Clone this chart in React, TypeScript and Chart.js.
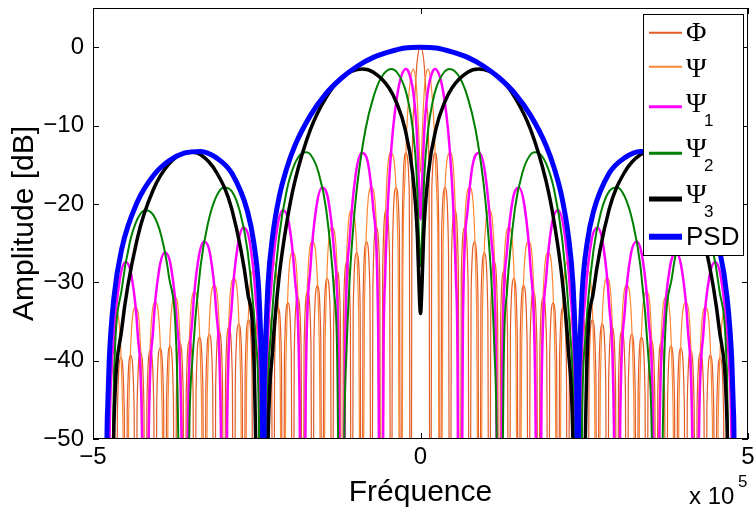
import React, { useEffect, useRef } from "react";
import { Chart, registerables } from "chart.js";
Chart.register(...registerables);

// ---------- data (frequency in units of 1e5, amplitude in dB) ----------
const xTicks = [-5, 0, 5];
const yTicks = [0, -10, -20, -30, -40, -50];
const seriesNames = ["Φ", "Ψ", "Ψ", "Ψ", "Ψ", "PSD"];
const seriesSubs = ["", "", "1", "2", "3", ""];

const psd: [number, number][] = [
  [-4.8,-100],[-4.79,-54],[-4.776,-46],[-4.752,-39.9],[-4.68,-31.9],[-4.56,-25.7],[-4.32,-19.7],[-4.08,-16.4],[-3.84,-14.5],[-3.6,-13.5],[-3.36,-13.3],[-3.12,-14.1],[-2.88,-16.1],[-2.64,-21],[-2.544,-25],[-2.472,-30.7],[-2.424,-40.1],[-2.412,-46.1],[-2.4,-100],
  [-2.388,-46],[-2.376,-39.9],[-2.328,-30.2],[-2.256,-24],[-2.16,-19.2],[-2.04,-15.4],[-1.92,-12.6],[-1.68,-8.7],[-1.44,-5.9],[-1.2,-3.9],[-0.96,-2.4],[-0.72,-1.3],[-0.48,-0.6],[-0.24,-0.1],
  [0,0],
  [0.24,-0.1],[0.48,-0.6],[0.72,-1.3],[0.96,-2.4],[1.2,-3.9],[1.44,-5.9],[1.68,-8.7],[1.92,-12.6],[2.04,-15.4],[2.16,-19.2],[2.256,-24],[2.328,-30.2],[2.376,-39.9],[2.388,-46],
  [2.4,-100],[2.412,-46.1],[2.424,-40.1],[2.472,-30.7],[2.544,-25],[2.64,-21],[2.88,-16.1],[3.12,-14.1],[3.36,-13.3],[3.6,-13.5],[3.84,-14.5],[4.08,-16.4],[4.32,-19.7],[4.56,-25.7],[4.68,-31.9],[4.752,-39.9],[4.776,-46],[4.79,-54],[4.8,-100],
];

const psi3: [number, number][] = [
  [-4.8,-100],[-4.68,-48],[-4.56,-35.9],[-4.32,-24.3],[-4.08,-18.2],[-3.84,-14.9],[-3.6,-13.5],[-3.48,-13.4],[-3.36,-13.7],[-3.12,-15.9],[-2.88,-20.7],[-2.64,-31.2],[-2.544,-39.5],[-2.4,-100],
  [-2.328,-50.7],[-2.256,-38.5],[-2.16,-29.4],[-2.04,-22.3],[-1.92,-17.2],[-1.68,-10.5],[-1.44,-6.4],[-1.2,-3.9],[-0.89,-2.8],[-0.72,-3.2],[-0.48,-5.2],[-0.36,-7.2],[-0.24,-10.3],[-0.12,-16.1],[-0.048,-24],[-0.024,-30.1],
  [0,-34],
  [0.024,-30.1],[0.048,-24],[0.12,-16.1],[0.24,-10.3],[0.36,-7.2],[0.48,-5.2],[0.72,-3.2],[0.89,-2.8],[1.2,-3.9],[1.44,-6.4],[1.68,-10.5],[1.92,-17.2],[2.04,-22.3],[2.16,-29.4],[2.256,-38.5],[2.328,-50.7],
  [2.4,-100],[2.544,-39.5],[2.64,-31.2],[2.88,-20.7],[3.12,-15.9],[3.36,-13.7],[3.48,-13.4],[3.6,-13.5],[3.84,-14.9],[4.08,-18.2],[4.32,-24.3],[4.56,-35.9],[4.68,-48],[4.8,-100],
];

const psi2: [number, number][] = [
  [-4.8,-100],[-4.68,-42.2],[-4.56,-30.8],[-4.44,-25],[-4.32,-21.9],[-4.2,-20.8],[-4.08,-21.4],[-3.96,-24],[-3.84,-29.3],[-3.72,-40.2],
  [-3.6,-100],[-3.528,-48.4],[-3.48,-39.6],[-3.36,-28.1],[-3.24,-22.3],[-3.12,-19.1],[-3,-17.9],[-2.88,-18.4],[-2.76,-20.9],[-2.64,-26],[-2.52,-36.8],[-2.472,-45.3],
  [-2.4,-100],[-2.34,-48],[-2.28,-35.9],[-2.16,-24.3],[-2.04,-18.2],[-1.92,-14.9],[-1.8,-13.5],[-1.74,-13.4],[-1.68,-13.7],[-1.56,-15.9],[-1.44,-20.7],[-1.32,-31.2],[-1.272,-39.5],
  [-1.2,-100],[-1.164,-50.7],[-1.128,-38.5],[-1.08,-29.4],[-1.02,-22.3],[-0.96,-17.2],[-0.84,-10.5],[-0.72,-6.4],[-0.6,-3.9],[-0.445,-2.8],[-0.36,-3.2],[-0.24,-5.2],[-0.18,-7.2],[-0.12,-10.3],[-0.06,-16.1],[-0.024,-24],
  [0,-28],
  [0.024,-24],[0.06,-16.1],[0.12,-10.3],[0.18,-7.2],[0.24,-5.2],[0.36,-3.2],[0.445,-2.8],[0.6,-3.9],[0.72,-6.4],[0.84,-10.5],[0.96,-17.2],[1.02,-22.3],[1.08,-29.4],[1.128,-38.5],[1.164,-50.7],
  [1.2,-100],[1.272,-39.5],[1.32,-31.2],[1.44,-20.7],[1.56,-15.9],[1.68,-13.7],[1.74,-13.4],[1.8,-13.5],[1.92,-14.9],[2.04,-18.2],[2.16,-24.3],[2.28,-35.9],[2.34,-48],
  [2.4,-100],[2.472,-45.3],[2.52,-36.8],[2.64,-26],[2.76,-20.9],[2.88,-18.4],[3,-17.9],[3.12,-19.1],[3.24,-22.3],[3.36,-28.1],[3.48,-39.6],[3.528,-48.4],
  [3.6,-100],[3.72,-40.2],[3.84,-29.3],[3.96,-24],[4.08,-21.4],[4.2,-20.8],[4.32,-21.9],[4.44,-25],[4.56,-30.8],[4.68,-42.2],[4.8,-100],
];

const psi1: [number, number][] = [
  [-4.8,-100],[-4.752,-52.1],[-4.68,-37],[-4.59,-29.6],[-4.5,-27.4],[-4.41,-29.3],[-4.32,-36.3],[-4.248,-51.1],
  [-4.2,-100],[-4.152,-51],[-4.08,-35.8],[-3.99,-28.4],[-3.9,-26.2],[-3.81,-28],[-3.72,-35],[-3.648,-49.8],
  [-3.6,-100],[-3.552,-49.6],[-3.48,-34.4],[-3.39,-27],[-3.3,-24.8],[-3.21,-26.5],[-3.12,-33.5],[-3.048,-48.3],
  [-3,-100],[-2.952,-48],[-2.88,-32.8],[-2.79,-25.3],[-2.7,-23],[-2.61,-24.7],[-2.52,-31.6],[-2.448,-46.4],
  [-2.4,-100],[-2.352,-46],[-2.28,-30.7],[-2.19,-23.2],[-2.1,-20.8],[-2.01,-22.4],[-1.92,-29.3],[-1.848,-43.9],
  [-1.8,-100],[-1.752,-43.5],[-1.68,-28.1],[-1.59,-20.4],[-1.5,-17.9],[-1.41,-19.4],[-1.32,-26],[-1.248,-40.5],
  [-1.2,-100],[-1.152,-39.8],[-1.08,-24.3],[-0.99,-16.3],[-0.9,-13.5],[-0.81,-14.5],[-0.72,-20.7],[-0.648,-34.8],
  [-0.6,-100],[-0.564,-38.5],[-0.54,-29.4],[-0.51,-22.3],[-0.48,-17.2],[-0.42,-10.5],[-0.36,-6.4],[-0.3,-3.9],[-0.223,-2.8],[-0.18,-3.2],[-0.12,-5.2],[-0.09,-7.2],[-0.06,-10.3],[-0.03,-16.1],
  [0,-22],
  [0.03,-16.1],[0.06,-10.3],[0.09,-7.2],[0.12,-5.2],[0.18,-3.2],[0.223,-2.8],[0.3,-3.9],[0.36,-6.4],[0.42,-10.5],[0.48,-17.2],[0.51,-22.3],[0.54,-29.4],[0.564,-38.5],
  [0.6,-100],[0.648,-34.8],[0.72,-20.7],[0.81,-14.5],[0.9,-13.5],[0.99,-16.3],[1.08,-24.3],[1.152,-39.8],
  [1.2,-100],[1.248,-40.5],[1.32,-26],[1.41,-19.4],[1.5,-17.9],[1.59,-20.4],[1.68,-28.1],[1.752,-43.5],
  [1.8,-100],[1.848,-43.9],[1.92,-29.3],[2.01,-22.4],[2.1,-20.8],[2.19,-23.2],[2.28,-30.7],[2.352,-46],
  [2.4,-100],[2.448,-46.4],[2.52,-31.6],[2.61,-24.7],[2.7,-23],[2.79,-25.3],[2.88,-32.8],[2.952,-48],
  [3,-100],[3.048,-48.3],[3.12,-33.5],[3.21,-26.5],[3.3,-24.8],[3.39,-27],[3.48,-34.4],[3.552,-49.6],
  [3.6,-100],[3.648,-49.8],[3.72,-35],[3.81,-28],[3.9,-26.2],[3.99,-28.4],[4.08,-35.8],[4.152,-51],
  [4.2,-100],[4.248,-51.1],[4.32,-36.3],[4.41,-29.3],[4.5,-27.4],[4.59,-29.6],[4.68,-37],[4.752,-52.1],[4.8,-100],
];

const psi: [number, number][] = [
  [-4.8,-100],[-4.755,-47.7],[-4.65,-33.8],[-4.545,-47.3],
  [-4.5,-100],[-4.455,-47.1],[-4.35,-33.2],[-4.245,-46.7],
  [-4.2,-100],[-4.155,-46.5],[-4.05,-32.6],[-3.945,-46],
  [-3.9,-100],[-3.855,-45.8],[-3.75,-31.9],[-3.645,-45.3],
  [-3.6,-100],[-3.555,-45.2],[-3.45,-31.2],[-3.345,-44.6],
  [-3.3,-100],[-3.255,-44.4],[-3.15,-30.4],[-3.045,-43.8],
  [-3,-100],[-2.955,-43.5],[-2.85,-29.5],[-2.745,-42.9],
  [-2.7,-100],[-2.655,-42.6],[-2.55,-28.5],[-2.445,-41.8],
  [-2.4,-100],[-2.355,-41.6],[-2.25,-27.4],[-2.145,-40.7],
  [-2.1,-100],[-2.055,-40.4],[-1.95,-26.2],[-1.845,-39.4],
  [-1.8,-100],[-1.755,-39],[-1.65,-24.8],[-1.545,-37.9],
  [-1.5,-100],[-1.455,-37.3],[-1.35,-23],[-1.245,-36],
  [-1.2,-100],[-1.155,-35.3],[-1.05,-20.8],[-0.945,-33.6],
  [-0.9,-100],[-0.855,-32.7],[-0.75,-17.9],[-0.645,-30.3],
  [-0.6,-100],[-0.555,-29],[-0.45,-13.5],[-0.345,-24.9],
  [-0.3,-100],[-0.27,-29.4],[-0.24,-17.2],[-0.21,-10.5],[-0.18,-6.4],[-0.15,-3.9],[-0.111,-2.8],[-0.09,-3.2],[-0.06,-5.2],[-0.03,-10.3],
  [0,-16],
  [0.03,-10.3],[0.06,-5.2],[0.09,-3.2],[0.111,-2.8],[0.15,-3.9],[0.18,-6.4],[0.21,-10.5],[0.24,-17.2],[0.27,-29.4],
  [0.3,-100],[0.345,-24.9],[0.45,-13.5],[0.555,-29],
  [0.6,-100],[0.645,-30.3],[0.75,-17.9],[0.855,-32.7],
  [0.9,-100],[0.945,-33.6],[1.05,-20.8],[1.155,-35.3],
  [1.2,-100],[1.245,-36],[1.35,-23],[1.455,-37.3],
  [1.5,-100],[1.545,-37.9],[1.65,-24.8],[1.755,-39],
  [1.8,-100],[1.845,-39.4],[1.95,-26.2],[2.055,-40.4],
  [2.1,-100],[2.145,-40.7],[2.25,-27.4],[2.355,-41.6],
  [2.4,-100],[2.445,-41.8],[2.55,-28.5],[2.655,-42.6],
  [2.7,-100],[2.745,-42.9],[2.85,-29.5],[2.955,-43.5],
  [3,-100],[3.045,-43.8],[3.15,-30.4],[3.255,-44.4],
  [3.3,-100],[3.345,-44.6],[3.45,-31.2],[3.555,-45.2],
  [3.6,-100],[3.645,-45.3],[3.75,-31.9],[3.855,-45.8],
  [3.9,-100],[3.945,-46],[4.05,-32.6],[4.155,-46.5],
  [4.2,-100],[4.245,-46.7],[4.35,-33.2],[4.455,-47.1],
  [4.5,-100],[4.545,-47.3],[4.65,-33.8],[4.755,-47.7],[4.8,-100],
];

const phi: [number, number][] = [
  [-4.8,-100],[-4.7775,-47],[-4.725,-39.9],[-4.6725,-46.6],
  [-4.65,-100],[-4.6275,-46.7],[-4.575,-39.6],[-4.5225,-46.3],
  [-4.5,-100],[-4.4775,-46.4],[-4.425,-39.3],[-4.3725,-46],
  [-4.35,-100],[-4.3275,-46.1],[-4.275,-39],[-4.2225,-45.7],
  [-4.2,-100],[-4.1775,-45.8],[-4.125,-38.7],[-4.0725,-45.4],
  [-4.05,-100],[-4.0275,-45.5],[-3.975,-38.4],[-3.9225,-45.1],
  [-3.9,-100],[-3.8775,-45.2],[-3.825,-38.1],[-3.7725,-44.8],
  [-3.75,-100],[-3.7275,-44.8],[-3.675,-37.7],[-3.6225,-44.4],
  [-3.6,-100],[-3.5775,-44.5],[-3.525,-37.4],[-3.4725,-44.1],
  [-3.45,-100],[-3.4275,-44.1],[-3.375,-37],[-3.3225,-43.7],
  [-3.3,-100],[-3.2775,-43.7],[-3.225,-36.6],[-3.1725,-43.3],
  [-3.15,-100],[-3.1275,-43.3],[-3.075,-36.2],[-3.0225,-42.9],
  [-3,-100],[-2.9775,-42.8],[-2.925,-35.7],[-2.8725,-42.4],
  [-2.85,-100],[-2.8275,-42.4],[-2.775,-35.3],[-2.7225,-42],
  [-2.7,-100],[-2.6775,-41.9],[-2.625,-34.8],[-2.5725,-41.5],
  [-2.55,-100],[-2.5275,-41.4],[-2.475,-34.3],[-2.4225,-41],
  [-2.4,-100],[-2.3775,-40.9],[-2.325,-33.8],[-2.2725,-40.5],
  [-2.25,-100],[-2.2275,-40.3],[-2.175,-33.2],[-2.1225,-39.9],
  [-2.1,-100],[-2.0775,-39.7],[-2.025,-32.6],[-1.9725,-39.3],
  [-1.95,-100],[-1.9275,-39],[-1.875,-31.9],[-1.8225,-38.5],
  [-1.8,-100],[-1.7775,-38.4],[-1.725,-31.2],[-1.6725,-37.8],
  [-1.65,-100],[-1.6275,-37.6],[-1.575,-30.4],[-1.5225,-37],
  [-1.5,-100],[-1.4775,-36.7],[-1.425,-29.5],[-1.3725,-36.1],
  [-1.35,-100],[-1.3275,-35.8],[-1.275,-28.5],[-1.2225,-35],
  [-1.2,-100],[-1.1775,-34.7],[-1.125,-27.4],[-1.0725,-33.9],
  [-1.05,-100],[-1.0275,-33.6],[-0.975,-26.2],[-0.9225,-32.6],
  [-0.9,-100],[-0.8775,-32.2],[-0.825,-24.8],[-0.7725,-31.1],
  [-0.75,-100],[-0.7275,-30.6],[-0.675,-23],[-0.6225,-29.2],
  [-0.6,-100],[-0.5775,-28.5],[-0.525,-20.8],[-0.4725,-26.8],
  [-0.45,-100],[-0.4275,-25.9],[-0.375,-17.9],[-0.3225,-23.5],
  [-0.3,-100],[-0.2775,-22.2],[-0.225,-13.5],[-0.1725,-18.1],
  [-0.15,-100],[-0.13,-16.5],[-0.1,-7.7],[-0.05,-1.7],
  [0,0],
  [0.05,-1.7],[0.1,-7.7],[0.13,-16.5],[0.15,-100],
  [0.1725,-18.1],[0.225,-13.5],[0.2775,-22.2],[0.3,-100],
  [0.3225,-23.5],[0.375,-17.9],[0.4275,-25.9],[0.45,-100],
  [0.4725,-26.8],[0.525,-20.8],[0.5775,-28.5],[0.6,-100],
  [0.6225,-29.2],[0.675,-23],[0.7275,-30.6],[0.75,-100],
  [0.7725,-31.1],[0.825,-24.8],[0.8775,-32.2],[0.9,-100],
  [0.9225,-32.6],[0.975,-26.2],[1.0275,-33.6],[1.05,-100],
  [1.0725,-33.9],[1.125,-27.4],[1.1775,-34.7],[1.2,-100],
  [1.2225,-35],[1.275,-28.5],[1.3275,-35.8],[1.35,-100],
  [1.3725,-36.1],[1.425,-29.5],[1.4775,-36.7],[1.5,-100],
  [1.5225,-37],[1.575,-30.4],[1.6275,-37.6],[1.65,-100],
  [1.6725,-37.8],[1.725,-31.2],[1.7775,-38.4],[1.8,-100],
  [1.8225,-38.5],[1.875,-31.9],[1.9275,-39],[1.95,-100],
  [1.9725,-39.3],[2.025,-32.6],[2.0775,-39.7],[2.1,-100],
  [2.1225,-39.9],[2.175,-33.2],[2.2275,-40.3],[2.25,-100],
  [2.2725,-40.5],[2.325,-33.8],[2.3775,-40.9],[2.4,-100],
  [2.4225,-41],[2.475,-34.3],[2.5275,-41.4],[2.55,-100],
  [2.5725,-41.5],[2.625,-34.8],[2.6775,-41.9],[2.7,-100],
  [2.7225,-42],[2.775,-35.3],[2.8275,-42.4],[2.85,-100],
  [2.8725,-42.4],[2.925,-35.7],[2.9775,-42.8],[3,-100],
  [3.0225,-42.9],[3.075,-36.2],[3.1275,-43.3],[3.15,-100],
  [3.1725,-43.3],[3.225,-36.6],[3.2775,-43.7],[3.3,-100],
  [3.3225,-43.7],[3.375,-37],[3.4275,-44.1],[3.45,-100],
  [3.4725,-44.1],[3.525,-37.4],[3.5775,-44.5],[3.6,-100],
  [3.6225,-44.4],[3.675,-37.7],[3.7275,-44.8],[3.75,-100],
  [3.7725,-44.8],[3.825,-38.1],[3.8775,-45.2],[3.9,-100],
  [3.9225,-45.1],[3.975,-38.4],[4.0275,-45.5],[4.05,-100],
  [4.0725,-45.4],[4.125,-38.7],[4.1775,-45.8],[4.2,-100],
  [4.2225,-45.7],[4.275,-39],[4.3275,-46.1],[4.35,-100],
  [4.3725,-46],[4.425,-39.3],[4.4775,-46.4],[4.5,-100],
  [4.5225,-46.3],[4.575,-39.6],[4.6275,-46.7],[4.65,-100],
  [4.6725,-46.6],[4.725,-39.9],[4.7775,-47],[4.8,-100],
];

// ---------- styles ----------
const seriesData = [phi, psi, psi1, psi2, psi3, psd];
const seriesColors = ["#e25c28", "#ff8833", "#ff00ff", "#008000", "#000000", "#0000ff"];
const seriesWidths = [1.2, 1.2, 2.5, 2, 3.5, 5];
const legendWidths = [2, 2, 3, 3, 5, 6];
const legendRowY = [32.7, 66.7, 106.7, 153.3, 199, 236.7];
const legendBaseY = [41, 77, 112, 157, 203, 245];
const SANS = "'Liberation Sans', Arial, Helvetica, sans-serif";
const SERIF = "'Liberation Serif', 'Times New Roman', serif";

const fmt = (v: number) => (v < 0 ? "\u2212" + Math.abs(v) : String(v));

const framePlugin = {
  id: "frame",
  afterDatasetsDraw(chart: any) {
    const { ctx, chartArea } = chart;
    const { left, right, top, bottom } = chartArea;
    const xs = chart.scales.x;
    const ys = chart.scales.y;
    ctx.save();
    ctx.strokeStyle = "#000";
    ctx.lineWidth = 1;
    ctx.beginPath();
    for (const v of xTicks) {
      const px = Math.round(xs.getPixelForValue(v)) + 0.5;
      ctx.moveTo(px, bottom); ctx.lineTo(px, bottom - 6);
      ctx.moveTo(px, top); ctx.lineTo(px, top + 6);
    }
    for (const v of yTicks) {
      const py = Math.round(ys.getPixelForValue(v)) + 0.5;
      ctx.moveTo(left, py); ctx.lineTo(left + 6, py);
      ctx.moveTo(right, py); ctx.lineTo(right - 6, py);
    }
    ctx.stroke();
    ctx.strokeRect(left + 0.5, top + 0.5, right - left - 1, bottom - top - 1);

    // legend
    const lx0 = 643, ly0 = 14, lx1 = 743, ly1 = 255;
    ctx.fillStyle = "#fff";
    ctx.fillRect(lx0, ly0, lx1 - lx0, ly1 - ly0);
    ctx.strokeStyle = "#000";
    ctx.lineWidth = 1;
    ctx.strokeRect(lx0 + 0.5, ly0 + 0.5, lx1 - lx0, ly1 - ly0);
    for (let i = 0; i < seriesNames.length; i++) {
      ctx.strokeStyle = seriesColors[i];
      ctx.lineWidth = legendWidths[i];
      ctx.beginPath();
      ctx.moveTo(649, legendRowY[i]);
      ctx.lineTo(682, legendRowY[i]);
      ctx.stroke();
      ctx.fillStyle = "#000";
      ctx.textAlign = "left";
      ctx.textBaseline = "alphabetic";
      ctx.font = seriesNames[i] === "PSD" ? `26px ${SANS}` : `28px ${SERIF}`;
      ctx.fillText(seriesNames[i], 686, legendBaseY[i]);
      if (seriesSubs[i]) {
        ctx.font = `17px ${SANS}`;
        ctx.fillText(seriesSubs[i], 704, legendBaseY[i] + 14);
      }
    }

    // exponent label
    ctx.fillStyle = "#000";
    ctx.textAlign = "left";
    ctx.textBaseline = "alphabetic";
    ctx.font = `24px ${SANS}`;
    ctx.fillText("x 10", 689, 504);
    ctx.font = `17px ${SANS}`;
    ctx.fillText("5", 738, 487);
    ctx.restore();
  },
};

export default function App() {
  const ref = useRef<HTMLCanvasElement>(null);
  useEffect(() => {
    const order = [5, 4, 3, 2, 1, 0];
    const datasets = seriesData.map((d, i) => ({
      label: seriesNames[i] + seriesSubs[i],
      data: d.map(([x, y]) => ({ x, y })),
      borderColor: seriesColors[i],
      backgroundColor: seriesColors[i],
      borderWidth: seriesWidths[i],
      pointRadius: 0,
      pointHoverRadius: 0,
      cubicInterpolationMode: "monotone" as const,
      fill: false,
      clip: 0,
      order: order[i],
    }));
    const chart = new Chart(ref.current!, {
      type: "line",
      data: { datasets },
      options: {
        animation: false,
        responsive: false,
        maintainAspectRatio: false,
        events: [],
        layout: { padding: { left: 0, right: 7, top: 8, bottom: 0 } },
        plugins: { legend: { display: false }, tooltip: { enabled: false } },
        scales: {
          x: {
            type: "linear",
            min: -5,
            max: 5,
            grid: { display: false, drawTicks: false },
            border: { display: false },
            afterBuildTicks: (s: any) => { s.ticks = xTicks.map((v) => ({ value: v })); },
            afterFit: (s: any) => { s.height = 70; s.paddingLeft = 0; s.paddingRight = 0; },
            ticks: {
              font: { family: SANS, size: 24 },
              color: "#000",
              padding: 4,
              maxRotation: 0,
              autoSkip: false,
              callback: (v: any) => fmt(Number(v)),
            },
            title: {
              display: true,
              text: "Fréquence",
              font: { family: SANS, size: 30, lineHeight: 1.1 },
              color: "#000",
              padding: { top: 0, bottom: 0 },
            },
          },
          y: {
            type: "linear",
            min: -50,
            max: 5,
            grid: { display: false, drawTicks: false },
            border: { display: false },
            afterBuildTicks: (s: any) => { s.ticks = yTicks.map((v) => ({ value: v })); },
            afterFit: (s: any) => { s.width = 93; s.paddingTop = 0; s.paddingBottom = 0; },
            ticks: {
              font: { family: SANS, size: 24 },
              color: "#000",
              padding: 9,
              autoSkip: false,
              callback: (v: any) => fmt(Number(v)),
            },
            title: {
              display: true,
              text: "Amplitude [dB]",
              font: { family: SANS, size: 30, lineHeight: 1.1 },
              color: "#000",
              padding: { top: 8, bottom: 0 },
            },
          },
        },
      },
      plugins: [framePlugin],
    } as any);
    return () => chart.destroy();
  }, []);
  return (
    <div style={{ position: "absolute", left: 0, top: 0, width: 755, height: 509, background: "#fff" }}>
      <canvas ref={ref} width={755} height={509} style={{ display: "block", width: 755, height: 509 }} />
    </div>
  );
}
